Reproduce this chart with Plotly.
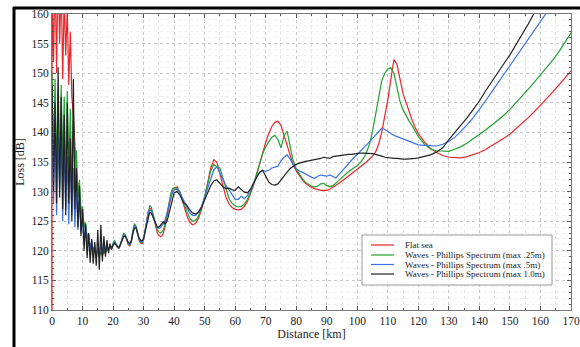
import numpy as np
import plotly.graph_objects as go

# Distance grid [km]
dist_a = [i * 0.5 for i in range(80)]          # 0 .. 39.5
dist_b = list(range(40, 121))                   # 40 .. 120
dist_c = list(range(122, 171, 2))               # 122 .. 170
distance = dist_a + dist_b + dist_c

# flat-sea curve drops off the bottom of the scale right at 0 km
flat_sea_origin = [0.0]
flat_sea_origin_loss = [100]

flat_sea = [
    165, 152, 168, 150, 170, 155, 166, 149, 163, 153, 161, 148, 157, 146, 143, 138,
    133, 131, 128.5, 127, 125.5, 124.5, 123.3, 122.5, 121.8, 121.2, 120.8, 120.4, 120.1, 119.9,
    119.7, 119.6, 119.5, 119.5, 119.6, 119.8, 120.0, 120.3, 120.6, 120.4, 120.8, 121.4, 121.0, 120.5,
    120.4, 121.2, 122.0, 122.7, 122.6, 121.8, 121.0, 120.8, 121.6, 123.2, 124.3, 124.0, 122.8, 121.8,
    121.3, 121.2, 121.8, 123.2, 125.0, 126.6, 127.2, 127.0, 126.2, 125.0, 123.8, 123.0, 122.6, 122.4,
    122.5, 123.0, 124.0, 125.3, 126.8, 128.3, 129.6, 130.4,
    130.6, 130.8, 129.8, 128.0, 126.2, 124.9, 124.4, 124.6, 125.5, 127.0,
    129.0, 131.5, 134.0, 135.4, 135.0, 133.0, 130.8, 129.0, 127.9, 127.3,
    127.0, 126.9, 127.0, 127.5, 128.3, 129.5, 131.0, 132.8, 134.7, 136.5,
    138.3, 139.8, 141.0, 141.7, 141.9, 141.2, 139.5, 137.5, 135.8, 134.5,
    133.5, 132.7, 132.0, 131.4, 131.0, 130.7, 130.5, 130.3, 130.2, 130.2,
    130.2, 130.4, 130.7, 131.0, 131.4, 131.8, 132.2, 132.6, 133.0, 133.4,
    133.8, 134.1, 134.5, 135.0, 135.5, 136.0, 136.7, 138.0, 140.0, 142.5,
    145.5, 149.0, 152.3, 151.5, 148.8, 146.5, 145.0, 143.3, 142.0, 140.8,
    139.8,
    138.4, 137.3, 136.6, 136.1, 135.8, 135.7, 135.7, 135.9, 136.2, 136.6,
    137.1, 137.7, 138.3, 139.0, 139.7, 140.6, 141.5, 142.5, 143.5, 144.6,
    145.6, 146.8, 148.0, 149.2, 150.4,
]

waves_025 = [
    150, 136, 149, 133, 147, 131, 148, 134, 146, 130, 147, 133, 144, 131, 142, 130,
    137, 129, 132, 126.5, 127.5, 124, 124.8, 122, 122.6, 120.5, 121.4, 119.6, 120.6, 119.3,
    120.2, 119.0, 119.9, 119.2, 120.3, 119.6, 120.6, 120.0, 121.0, 120.4, 121.3, 121.8, 121.2, 120.6,
    120.5, 121.3, 122.2, 123.0, 122.7, 121.9, 121.1, 121.0, 121.8, 123.4, 124.6, 124.2, 123.0, 122.0,
    121.5, 121.4, 122.0, 123.4, 125.2, 126.9, 127.6, 127.4, 126.4, 125.2, 124.1, 123.5, 123.2, 123.0,
    123.2, 123.6, 124.5, 125.8, 127.2, 128.6, 129.8, 130.5,
    130.6, 130.6, 129.8, 128.3, 126.8, 125.6, 125.0, 125.1, 125.9, 127.3,
    129.2, 131.3, 133.5, 134.6, 134.2, 134.0, 132.3, 130.3, 128.8, 128.0,
    127.6, 127.4, 127.5, 127.9, 128.7, 129.8, 131.2, 133.0, 134.8, 136.4,
    137.6, 138.4, 139.2, 139.5, 138.8, 137.4, 139.4, 140.2, 137.5, 135.2,
    133.8, 132.9, 132.2, 131.6, 131.2, 130.9, 130.8, 130.9, 131.3, 131.4,
    131.0, 130.8, 131.0, 131.4, 131.9, 132.4, 132.9, 133.3, 133.7, 134.0,
    134.4, 134.9, 135.6, 136.6, 138.0, 140.2, 143.0, 146.2, 148.7, 150.0,
    150.7, 150.9, 150.0, 147.6, 145.2, 143.8, 142.8, 141.9, 141.1, 140.2,
    139.3,
    138.0, 137.2, 136.9, 136.8, 136.8, 137.2, 137.6, 138.2, 138.9, 139.7,
    140.4, 141.2, 142.0, 142.9, 143.9, 145.0, 146.1, 147.3, 148.5, 149.7,
    150.9, 152.2, 153.6, 155.1, 156.8,
]

waves_05 = [
    146, 128, 143, 126, 140, 130, 142, 125, 138, 127, 136, 124.5, 137, 126, 134, 124,
    131, 123.5, 129, 123, 126, 121.5, 124.5, 120.5, 123, 119.8, 121.8, 119.2, 121, 118.8,
    120.6, 119.0, 121.2, 119.4, 121.5, 119.7, 121.0, 120.2, 120.8, 120.6, 121.0, 121.5, 121.1, 120.6,
    120.5, 121.2, 122.0, 122.7, 122.6, 121.9, 121.2, 121.0, 121.7, 123.2, 124.2, 124.0, 122.9, 122.0,
    121.6, 121.5, 122.0, 123.3, 125.0, 126.4, 126.9, 126.7, 126.0, 125.1, 124.4, 124.0, 123.8, 123.9,
    124.2, 124.6, 125.1, 125.9, 127.0, 128.2, 129.2, 129.9,
    130.3, 130.4, 129.7, 128.6, 127.5, 126.5, 126.0, 126.0, 126.5, 127.5,
    129.0, 130.5, 132.0, 133.7, 134.2, 133.2, 132.0, 131.0, 130.3, 129.4,
    128.7, 128.7, 129.2, 128.8, 129.3, 130.2, 131.3, 132.5, 133.2, 133.6,
    133.4, 133.6, 134.0, 134.2, 134.3, 135.2, 135.8, 136.2, 135.5, 134.5,
    133.8, 133.5, 133.3, 133.0, 132.7, 132.4, 132.2, 132.6, 132.8, 132.7,
    132.6, 132.8, 132.5, 132.3, 132.9, 133.5, 134.1, 134.7, 135.3, 135.8,
    136.3, 136.8, 137.3, 137.9, 138.4, 139.0, 139.6, 140.2, 140.7, 140.5,
    140.1, 139.8, 139.5, 139.3, 139.1, 138.9, 138.6, 138.4, 138.2, 138.0,
    137.9,
    137.8, 137.7, 137.7, 138.0, 138.5, 139.2, 140.2, 141.3, 142.5, 143.8,
    145.3, 146.8, 148.3, 149.8, 151.2, 152.7, 154.2, 155.7, 157.2, 158.7,
    160.2, 161.7, 163.2, 164.7, 166.2,
]

waves_10 = [
    148, 130, 145, 128, 151, 129, 146, 127, 143, 126, 145, 128, 139, 125, 149, 127,
    134, 124, 131, 122.5, 127, 120, 124.5, 118.8, 123, 118, 122, 117.8, 121.5, 117.5,
    123.5, 116.8, 124.4, 118.2, 122.5, 119.0, 121.8, 119.6, 121.2, 120.2, 121.0, 121.3, 121.0, 120.7,
    120.6, 121.1, 121.8, 122.4, 122.5, 122.0, 121.4, 121.2, 121.7, 122.9, 123.8, 123.9, 123.0, 122.2,
    121.8, 121.7, 122.1, 123.2, 124.6, 125.9, 126.5, 126.4, 125.8, 125.0, 124.3, 124.0, 124.0, 124.3,
    124.7, 124.9, 124.6, 124.8, 125.6, 126.8, 128.0, 129.1,
    129.8, 130.0, 129.3, 128.2, 127.8, 127.0, 126.4, 126.2, 126.6, 127.4,
    128.5, 129.8, 131.0, 131.8, 132.0, 131.4, 130.8, 130.5, 130.6, 130.3,
    130.2, 130.8, 130.4, 129.9, 129.8, 130.4, 131.4, 132.5, 133.3, 133.6,
    132.6, 131.6, 131.2, 131.1, 131.3, 132.0, 132.8, 133.3, 133.9, 134.3,
    134.6, 134.8, 135.0, 135.1, 135.2, 135.3, 135.4, 135.4, 135.6, 135.8,
    135.7, 135.6, 135.9, 136.0, 136.0, 136.1, 136.2, 136.3, 136.3, 136.4,
    136.4, 136.5, 136.5, 136.5, 136.5, 136.4, 136.3, 136.2, 136.0, 135.8,
    135.7, 135.6, 135.6, 135.6, 135.5, 135.5, 135.5, 135.5, 135.5, 135.6,
    135.7,
    135.9, 136.2, 136.7, 137.4, 138.8, 140.0, 141.2, 142.5, 143.9, 145.3,
    147.0, 148.6, 150.1, 151.6, 153.1, 154.8, 156.5, 158.3, 160.2, 162.0,
    163.9, 165.8, 167.7, 169.6, 171.5,
]

series_names = [
    "Flat sea",
    "Waves - Phillips Spectrum (max .25m)",
    "Waves - Phillips Spectrum (max .5m)",
    "Waves - Phillips Spectrum (max 1.0m)",
]
series_x = [flat_sea_origin + distance, distance, distance, distance]
series_values = [flat_sea_origin_loss + flat_sea, waves_025, waves_05, waves_10]
series_colors = ["#e8262b", "#21a232", "#3b72e6", "#222222"]

x_ticks = list(range(0, 171, 10))
y_ticks = list(range(110, 161, 5))

fig = go.Figure()
for name, xs, vals, col in zip(series_names, series_x, series_values, series_colors):
    fig.add_trace(go.Scatter(x=xs, y=vals, mode="lines", name=name,
                             line=dict(color=col, width=1.2), showlegend=False))

font_family = "Liberation Serif, DejaVu Serif, serif"
axis_common = dict(
    showgrid=True, gridcolor="#c8c8c8", griddash="dot", gridwidth=1,
    ticks="inside", ticklen=4, tickcolor="#555", mirror="allticks",
    showline=True, linecolor="#777", linewidth=1, zeroline=False,
    tickfont=dict(family=font_family, size=11.5, color="#222"),
    ticklabeloverflow="allow", automargin=False,
)

# Plot-area geometry (px) used to place the hand-drawn legend box in paper coords
W, H = 580, 347
ml, mr, mt, mb = 52, 9, 14, 37
pw, ph = W - ml - mr, H - mt - mb


def px(xp):
    return (xp - ml) / pw


def py(yp):
    return (H - mb - yp) / ph


shapes = [
    # outer black frame pieces of the original picture
    dict(type="line", xref="paper", yref="paper", x0=px(13), x1=px(582), y0=py(8), y1=py(8),
         line=dict(color="black", width=3)),
    dict(type="line", xref="paper", yref="paper", x0=px(14), x1=px(14), y0=py(7), y1=py(350),
         line=dict(color="black", width=3)),
    # legend box
    dict(type="rect", xref="paper", yref="paper", x0=px(362), x1=px(552), y0=py(285), y1=py(235),
         line=dict(color="#999", width=1), fillcolor="white", layer="above"),
]
annotations = []
row_y = [245, 255, 264.5, 274]
for name, col, ry in zip(series_names, series_colors, row_y):
    shapes.append(dict(type="line", xref="paper", yref="paper", x0=px(371), x1=px(394),
                       y0=py(ry), y1=py(ry), line=dict(color=col, width=1.2), layer="above"))
    annotations.append(dict(xref="paper", yref="paper", x=px(403), y=py(ry), text=name,
                            showarrow=False, xanchor="left", yanchor="middle",
                            font=dict(family=font_family, size=9, color="#222")))

fig.update_layout(
    width=W, height=H,
    margin=dict(l=ml, r=mr, t=mt, b=mb, autoexpand=False),
    paper_bgcolor="white", plot_bgcolor="white",
    font=dict(family=font_family, color="#222"),
    showlegend=False,
    xaxis=dict(range=[0, 170], tickvals=x_ticks,
               title=dict(text="Distance [km]", font=dict(family=font_family, size=12), standoff=2),
               minor=dict(dtick=5, ticks="inside", ticklen=2, showgrid=True,
                          gridcolor="#e4e4e4", griddash="dot"),
               **axis_common),
    yaxis=dict(range=[110, 160], tickvals=y_ticks,
               title=dict(text="Loss [dB]", font=dict(family=font_family, size=12), standoff=4),
               minor=dict(dtick=1, ticks="inside", ticklen=2, showgrid=True,
                          gridcolor="#efefef", griddash="dot"),
               **axis_common),
    shapes=shapes,
    annotations=annotations,
)

fig.write_html("out.html")
